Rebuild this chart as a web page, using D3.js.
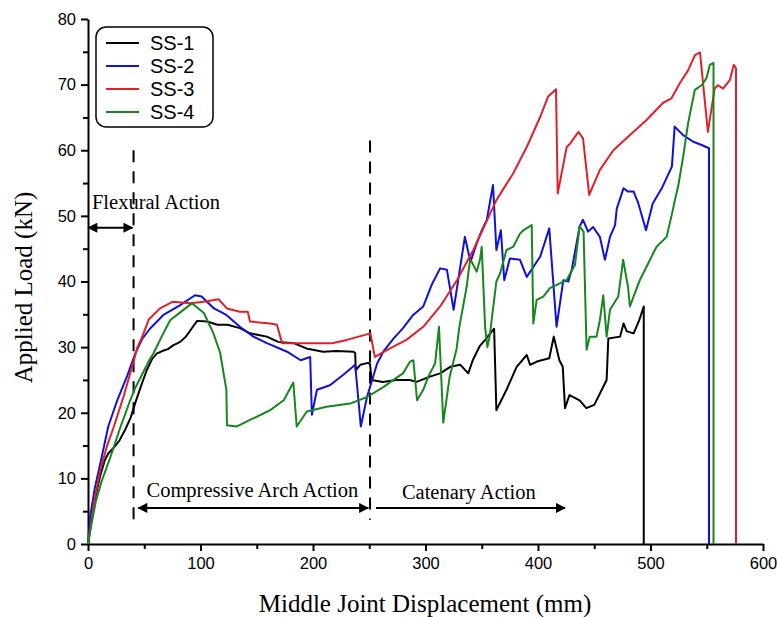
<!DOCTYPE html>
<html>
<head>
<meta charset="utf-8">
<script src="https://cdnjs.cloudflare.com/ajax/libs/d3/7.8.5/d3.min.js"></script>
<style>
  body { margin: 0; background: #fff; }
  svg { display: block; }
</style>
</head>
<body>
<div id="viz"></div>
<script>
// [displacement mm, load kN]
const ss1 = [[0,0],[3,3.5],[7,7.5],[11,10.5],[15,12.8],[18,13.8],[23,14.7],[28,15.8],[33,17.4],[38,19.3],[42,21.5],[47,24],[52,26.4],[57,28.2],[61,29],[66,29.4],[71,29.7],[76,30.3],[82,30.8],[87,31.6],[92,32.8],[97,34],[106,33.9],[115,33.4],[124,33.4],[135,32.9],[144,32.1],[159,31.6],[169,30.8],[183,30.6],[194,29.8],[209,29.3],[221,29.4],[236,29.3],[237.5,29.1],[238,26.5],[242,27.3],[249,27.6],[250.7,27.4],[252,25.0],[262,24.7],[274,25.0],[286,25.0],[292,24.7],[304,25.5],[313,26.0],[322,27.0],[331,27.3],[338,26.0],[342,28],[348,30.1],[353,31.1],[359,32.4],[361,32.8],[363,20.4],[372,23.5],[381,27],[390,28.8],[393,27.3],[399,27.8],[410,28.3],[414,31.6],[419,28],[422,27],[424,20.7],[428,22.7],[437,21.9],[443,20.7],[450,21.2],[461,25],[462.5,31.3],[473,31.6],[476,33.6],[479,32.4],[485,32.1],[490,34.1],[494,36.2],[494,0]];

const ss2 = [[0,0],[2,4.2],[6,8.5],[11,12.3],[18,17.9],[26,21.9],[35,25.7],[42,29],[48,31.2],[55,32.8],[67,34.9],[82,36.4],[95,37.9],[101,37.7],[112,35.9],[123,34.9],[135,33.1],[147,31.6],[159,30.6],[177,29.3],[189,28.0],[197.5,28.5],[199,19.7],[203.5,23.5],[215,24.2],[227,25.8],[237.5,27.3],[242.5,17.9],[248,22.4],[257,27.5],[262.5,29.3],[271.5,31.3],[280,32.9],[289,34.9],[298,36.2],[305.5,39.5],[313,42.0],[319,41.8],[325,35.7],[335,46.8],[340,43.0],[345.5,45.8],[350,47.8],[354.5,49.4],[360,54.7],[363,44.8],[367,47.8],[370,40.2],[375,43.5],[384,43.3],[390,40.7],[402,43.8],[410,48.1],[416.5,33.1],[422.5,40.2],[427,40.0],[430,41.8],[437,48.4],[440,49.4],[444.5,47.6],[449,48.3],[455,46.8],[459.5,43.3],[464,46.8],[468.5,48.6],[470,51.1],[476,54.2],[480,53.7],[485,53.7],[489,52.0],[496,47.8],[502,51.9],[510,54.2],[519,57.5],[521.5,63.6],[529,62.3],[538,61.3],[545.5,60.8],[552,60.3],[552,0]];

const ss3 = [[0,0],[3,3.5],[6,7],[11,11.3],[17,15],[23,17.9],[31.5,22.4],[40,27.5],[44,30],[48,31.5],[54,34.2],[64,35.9],[75,36.9],[91,36.7],[103,36.9],[116,37.3],[123.5,35.9],[135,35.4],[142,35.4],[144,33.9],[162,33.6],[168,33.4],[172.5,30.6],[186,30.6],[217,30.6],[230,31.1],[251,32.1],[255,28.5],[268.5,29.8],[283,31.1],[298,33.1],[313,36.2],[328,40.2],[342.5,44.8],[363,52.4],[378,56.5],[390,60.5],[402,65.1],[409,68.2],[416,69.3],[417.5,53.4],[425.5,60.5],[428.5,61.0],[436,62.8],[440,61.8],[445.5,53.2],[455,57.0],[467,60.0],[481.5,62.3],[496.5,64.6],[511,67.2],[518.5,67.9],[526,70.2],[533.5,72.2],[539.5,74.5],[544,74.9],[551,62.8],[557,69.4],[560,69.9],[564.5,69.4],[570.5,70.7],[574,73.0],[576,72.5],[576,0]];

const ss4 = [[0,0],[3,3],[7,6.5],[12,9.5],[20,13.3],[29,17.9],[37.5,21.9],[42,23.8],[46.5,25.3],[55,28.2],[58,29],[65.5,31.6],[73,34.1],[82,35.3],[92.5,36.7],[103,35.2],[111.5,32.1],[117.5,29.1],[121,25.5],[123,23.5],[123.5,18.1],[132,17.9],[144,18.9],[162,20.4],[174,21.9],[182.5,24.6],[185.5,17.9],[194.5,20.2],[212,20.9],[233,21.4],[248,22.4],[262.5,23.9],[271.5,25],[280,26.0],[286.3,27.8],[289.2,28.0],[292.5,21.9],[298,23.5],[302.5,25.5],[308.5,27.5],[312,33.1],[315.8,18.5],[321.5,25.5],[327.7,29.8],[330,33],[336.6,39.2],[339.6,43.3],[341,43],[345.5,41.5],[348.4,43.3],[350,45.3],[353,33],[355,30],[357,31.6],[363,40],[366.4,41.3],[372,44.8],[378,45.3],[384,47.3],[387,47.8],[394.4,48.6],[395.8,33.6],[398.8,37.2],[404.7,37.7],[410.6,39.0],[425.4,40.2],[432.8,42.5],[437,48.4],[440.5,47.6],[443.2,29.6],[446,31.6],[452,31.6],[455,34.1],[458,37.9],[461,31.6],[464,35.7],[471.3,37.7],[475.7,43.3],[480,39.2],[481.7,36.2],[490.5,40.2],[502.4,44.3],[505.4,45.3],[514.3,46.8],[518.7,50],[521.7,52.4],[524.6,54.5],[529,59.0],[533.4,64.1],[539.4,69.2],[545.4,69.9],[549.8,71.0],[552.7,73.0],[556,73.3],[556,0]];

const seriesNames = ['SS-1', 'SS-2', 'SS-3', 'SS-4'];
const seriesData = [ss1, ss2, ss3, ss4];
const seriesColors = ['#000000', '#1010dc', '#e0202a', '#18861e'];

const xTicks = [0, 100, 200, 300, 400, 500, 600];
const yTicks = [0, 10, 20, 30, 40, 50, 60, 70, 80];

// phase boundaries (mm) and annotation labels
const phaseLines = [40.5, 250.7];
const phaseLabels = ['Flexural Action', 'Compressive Arch Action', 'Catenary Action'];

const width = 777, height = 617;
const margin = { top: 19, right: 14, bottom: 73, left: 88 };

const svg = d3.select('#viz').append('svg')
  .attr('width', width)
  .attr('height', height);

const x = d3.scaleLinear().domain([0, 600]).range([margin.left, width - margin.right]);
const y = d3.scaleLinear().domain([0, 80]).range([height - margin.bottom, margin.top]);

const sans = '"Liberation Sans", Arial, sans-serif';
const serif = '"Liberation Serif", "Times New Roman", serif';

// minor ticks
const xMinor = d3.range(50, 600, 100);
const yMinor = d3.range(5, 80, 10);

svg.append('g')
  .attr('transform', `translate(0,${y(0)})`)
  .call(d3.axisBottom(x).tickValues(xMinor).tickSize(5).tickFormat(''))
  .call(g => g.select('.domain').remove())
  .call(g => g.selectAll('line').attr('stroke-width', 2));

svg.append('g')
  .attr('transform', `translate(${x(0)},0)`)
  .call(d3.axisLeft(y).tickValues(yMinor).tickSize(5).tickFormat(''))
  .call(g => g.select('.domain').remove())
  .call(g => g.selectAll('line').attr('stroke-width', 2));

const xAxis = svg.append('g')
  .attr('transform', `translate(0,${y(0)})`)
  .call(d3.axisBottom(x).tickValues(xTicks).tickSize(7).tickSizeOuter(0).tickPadding(6));

const yAxis = svg.append('g')
  .attr('transform', `translate(${x(0)},0)`)
  .call(d3.axisLeft(y).tickValues(yTicks).tickSize(7).tickSizeOuter(0).tickPadding(5));

[xAxis, yAxis].forEach(g => {
  g.select('.domain').attr('stroke-width', 2);
  g.selectAll('line').attr('stroke-width', 2);
  g.selectAll('text').attr('font-family', sans).attr('font-size', 16.5).attr('fill', '#000');
});

// axis titles
svg.append('text')
  .attr('x', 425).attr('y', 612)
  .attr('text-anchor', 'middle')
  .attr('font-family', serif).attr('font-size', 25)
  .text('Middle Joint Displacement (mm)');

svg.append('text')
  .attr('transform', `translate(32,${(y(0) + y(80)) / 2 + 6}) rotate(-90)`)
  .attr('text-anchor', 'middle')
  .attr('font-family', serif).attr('font-size', 25)
  .text('Applied Load (kN)');

// phase boundaries
svg.append('line')
  .attr('x1', x(phaseLines[0])).attr('x2', x(phaseLines[0]))
  .attr('y1', y(60)).attr('y2', y(2.9))
  .attr('stroke', '#000').attr('stroke-width', 2).attr('stroke-dasharray', '12,9');
svg.append('line')
  .attr('x1', x(phaseLines[1])).attr('x2', x(phaseLines[1]))
  .attr('y1', y(61.5)).attr('y2', y(3.7))
  .attr('stroke', '#000').attr('stroke-width', 2).attr('stroke-dasharray', '12,9');

// arrowheads
const defs = svg.append('defs');
defs.append('marker')
  .attr('id', 'arrow')
  .attr('viewBox', '0 0 10 10')
  .attr('refX', 9).attr('refY', 5)
  .attr('markerWidth', 12).attr('markerHeight', 10)
  .attr('markerUnits', 'userSpaceOnUse')
  .attr('orient', 'auto-start-reverse')
  .append('path').attr('d', 'M0,0L10,5L0,10z').attr('fill', '#000');

function arrow(x0, x1, yv, both) {
  const l = svg.append('line')
    .attr('x1', x(x0)).attr('x2', x(x1))
    .attr('y1', y(yv)).attr('y2', y(yv))
    .attr('stroke', '#000').attr('stroke-width', 2)
    .attr('marker-end', 'url(#arrow)');
  if (both) l.attr('marker-start', 'url(#arrow)');
}

arrow(0.3, 39.5, 48.2, true);
arrow(44.7, 249, 5.5, true);
arrow(256, 424, 5.5, false);

svg.append('text')
  .attr('x', x(3.5)).attr('y', y(51.1))
  .attr('font-family', serif).attr('font-size', 20.5)
  .text(phaseLabels[0]);
svg.append('text')
  .attr('x', x(52)).attr('y', y(7.2))
  .attr('font-family', serif).attr('font-size', 20.5)
  .text(phaseLabels[1]);
svg.append('text')
  .attr('x', x(279)).attr('y', y(6.9))
  .attr('font-family', serif).attr('font-size', 20.5)
  .text(phaseLabels[2]);

// curves
const line = d3.line().x(d => x(d[0])).y(d => y(d[1]));
seriesData.forEach((s, i) => {
  svg.append('path')
    .datum(s)
    .attr('fill', 'none')
    .attr('stroke', seriesColors[i])
    .attr('stroke-width', 2)
    .attr('stroke-linejoin', 'round')
    .attr('d', line);
});

// legend
const legend = svg.append('g').attr('transform', 'translate(96,27)');
legend.append('rect')
  .attr('width', 117).attr('height', 100)
  .attr('rx', 10).attr('ry', 10)
  .attr('fill', '#fff').attr('stroke', '#000').attr('stroke-width', 1.5);

seriesNames.forEach((name, i) => {
  const ly = 16 + i * 23;
  legend.append('line')
    .attr('x1', 10).attr('x2', 43)
    .attr('y1', ly).attr('y2', ly)
    .attr('stroke', seriesColors[i]).attr('stroke-width', 2);
  legend.append('text')
    .attr('x', 54).attr('y', ly + 6.5)
    .attr('font-family', sans).attr('font-size', 20)
    .text(name);
});
</script>
</body>
</html>
